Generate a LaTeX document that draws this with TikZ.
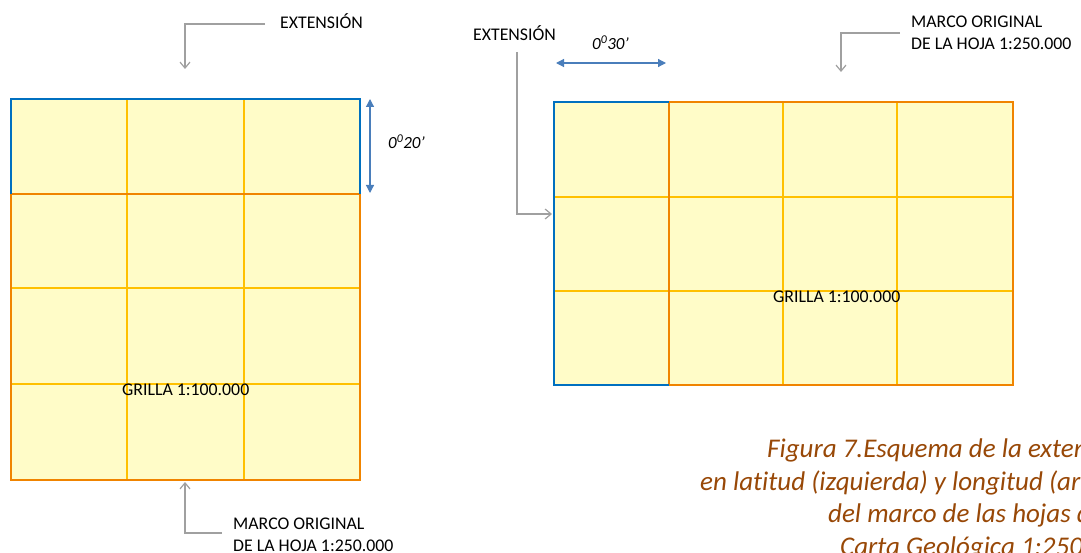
\documentclass[tikz,border=0pt]{standalone}
\usepackage{fontspec}
\setmainfont[Ligatures=NoCommon]{Carlito}
\usetikzlibrary{arrows.meta}
\definecolor{frblue}{HTML}{0070C0}
\definecolor{frorange}{HTML}{F08400}
\definecolor{gridgold}{HTML}{FFC000}
\definecolor{cellfill}{HTML}{FFFCC8}
\definecolor{dimblue}{HTML}{4A7EBB}
\definecolor{conngray}{HTML}{A0A0A0}
\definecolor{captbrown}{HTML}{984807}
\tikzset{
  frameblue/.style={draw=frblue,line width=1.8pt},
  frameorange/.style={draw=frorange,line width=1.8pt},
  gridline/.style={draw=gridgold,line width=1.5pt},
  label/.style={inner sep=0pt,font=\fontsize{17.8}{21}\selectfont,anchor=base west},
  dimlabel/.style={inner sep=0pt,font=\fontsize{17}{20}\selectfont\itshape,anchor=base west},
  capt/.style={inner sep=0pt,font=\fontsize{27}{32}\selectfont\itshape,text=captbrown,anchor=base west},
  conn/.style={draw=conngray,line width=1.2pt},
  connarrow/.style={conn,-{Straight Barb[length=6pt,width=10pt]}},
  dimarrow/.style={draw=dimblue,line width=1.2pt,{Triangle[length=8pt,width=8pt]}-{Triangle[length=8pt,width=8pt]}}
}
\begin{document}
\begin{tikzpicture}[x=1pt,y=-1pt]
\useasboundingbox (0,0) rectangle (1081,553);
\clip (0,0) rectangle (1081,553);

% ---------- left sheet ----------
\fill[cellfill] (11,99) rectangle (360,480);
\draw[gridline] (127,99) -- (127,480);
\draw[gridline] (244,99) -- (244,480);
\draw[gridline] (11,288) -- (360,288);
\draw[gridline] (11,384) -- (360,384);
\node[label] (gridL) at (122,395) {GRILLA 1:100.000};
\draw[frameorange] (11,194) rectangle (360,480);
\draw[frameblue] (11,194) -- (11,99) -- (360,99) -- (360,194);

% latitude dimension
\coordinate (dlt) at (370,99);
\coordinate (dlb) at (370,193);
\draw[dimarrow] (dlt) -- (dlb);
\node[dimlabel] (lat) at (388,149) {0\textsuperscript{0}20’};

% top-left label + connector
\node[label] (extL) at (280,29) {EXTENSIÓN};
\coordinate (eL1) at (265,24);
\coordinate (eL2) at (185,24);
\coordinate (eL3) at (185,69);
\draw[connarrow] (eL1) -- (eL2) -- (eL3);

% bottom-left label + connector
\node[label] (marcoL1) at (233,529) {MARCO ORIGINAL};
\node[label] (marcoL2) at (233,551) {DE LA HOJA 1:250.000};
\coordinate (mL1) at (222,533);
\coordinate (mL2) at (185,533);
\coordinate (mL3) at (185,482);
\draw[connarrow] (mL1) -- (mL2) -- (mL3);

% ---------- right sheet ----------
\fill[cellfill] (554,102) rectangle (1013,385);
\draw[gridline] (783,102) -- (783,385);
\draw[gridline] (897,102) -- (897,385);
\draw[gridline] (554,197) -- (1013,197);
\draw[gridline] (554,291) -- (1013,291);
\node[label] (gridR) at (773,302) {GRILLA 1:100.000};
\draw[frameorange] (669,102) rectangle (1013,385);
\draw[frameblue] (669,102) -- (554,102) -- (554,385) -- (669,385);

% longitude dimension
\coordinate (drl) at (556,63);
\coordinate (drr) at (666,63);
\draw[dimarrow] (drl) -- (drr);
\node[dimlabel] (lon) at (592,50) {0\textsuperscript{0}30’};

% right extension label + connector
\node[label] (extR) at (473,41) {EXTENSIÓN};
\coordinate (eR1) at (517,52);
\coordinate (eR2) at (517,214);
\coordinate (eR3) at (552,214);
\draw[connarrow] (eR1) -- (eR2) -- (eR3);

% top-right label + connector
\node[label] (marcoR1) at (911,28) {MARCO ORIGINAL};
\node[label] (marcoR2) at (911,50) {DE LA HOJA 1:250.000};
\coordinate (mR1) at (900,33);
\coordinate (mR2) at (841,33);
\coordinate (mR3) at (841,72);
\draw[connarrow] (mR1) -- (mR2) -- (mR3);

% ---------- caption ----------
\node[capt] (cap1) at (767,457) {Figura 7.Esquema de la extensión};
\node[capt] (cap2) at (700,490) {en latitud (izquierda) y longitud (arriba)};
\node[capt] (cap3) at (828,522) {del marco de las hojas de la};
\node[capt] (cap4) at (840,555) {Carta Geológica 1:250.000};
\end{tikzpicture}
\end{document}
